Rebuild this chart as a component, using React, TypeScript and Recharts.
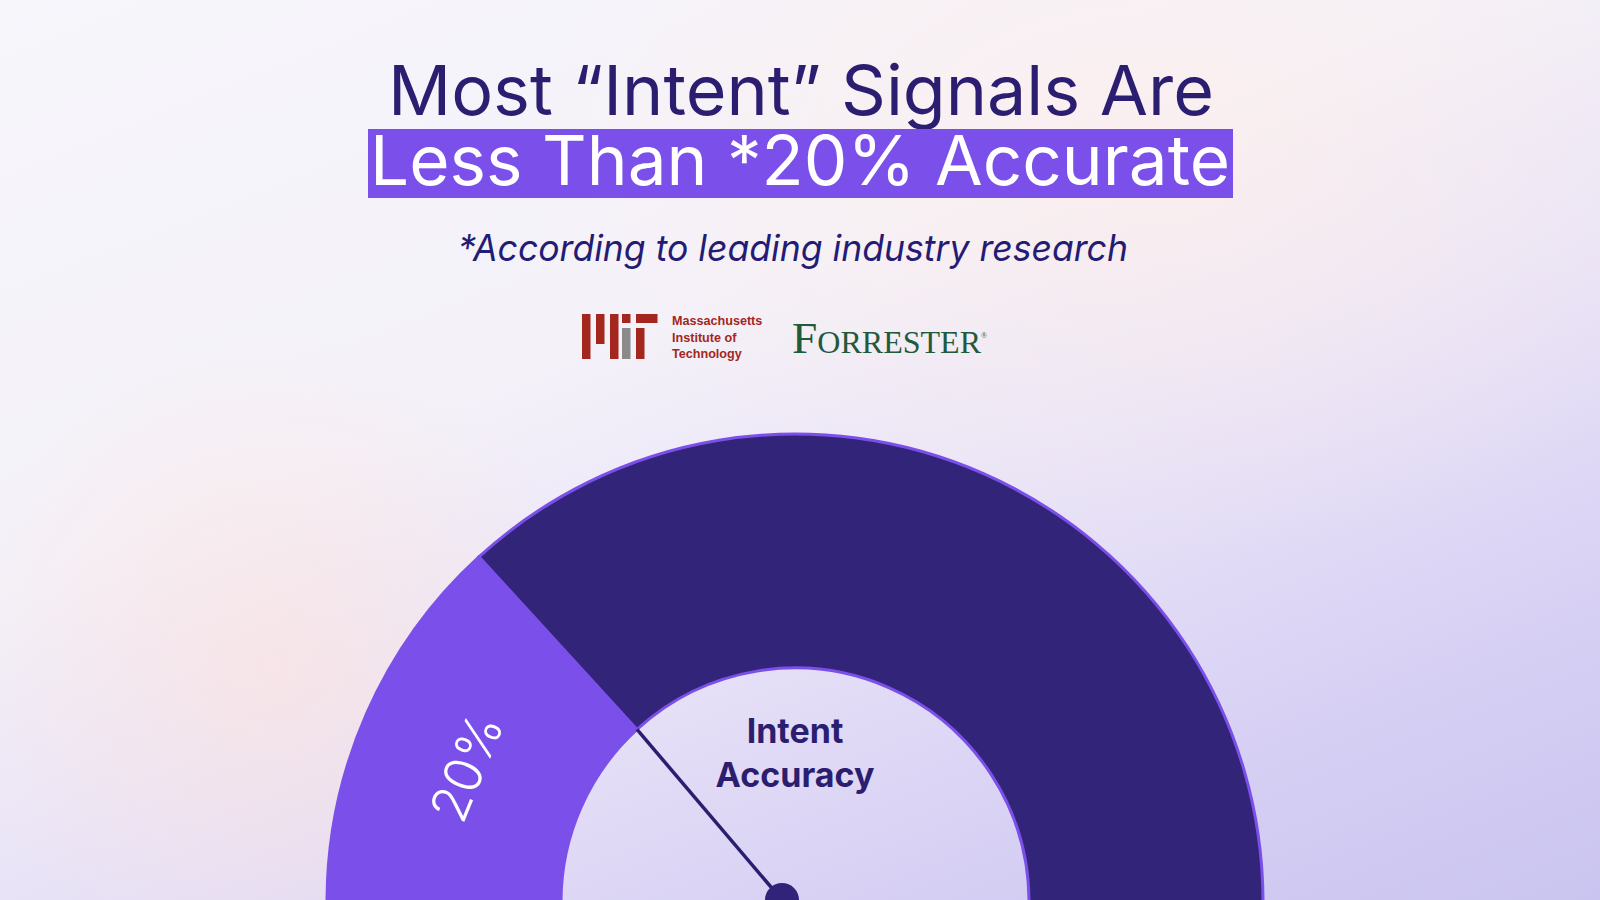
import * as React from "react";
import { PieChart, Pie, Cell } from "recharts";

// headline + copy
const titleLines = ["Most “Intent” Signals Are", "Less Than *20% Accurate"];
const subtitle = "*According to leading industry research";
const centerLabel = ["Intent", "Accuracy"];
const statLabel = "20%";

// gauge segments (share of the half ring, as drawn)
const segmentNames = ["Accurate", "Not accurate"];
const segmentValues = [26.4, 73.6];
const segmentColors = ["#7b4fea", "#322478"];

// logo copy
const mitLines = ["Massachusetts", "Institute of", "Technology"];
const forresterName = "Forrester";

const gaugeData = segmentNames.map((name, i) => ({ name, value: segmentValues[i] }));

const NAVY = "#2b1e70";
const RAD = Math.PI / 180;

const renderGaugeLabel = (props: any) => {
	const { cx, cy, midAngle, innerRadius, outerRadius, endAngle, index } = props;
	if (index !== 0) return null;
	const r = (innerRadius + outerRadius) / 2 + 4;
	const a = midAngle + 1.5;
	const lx = cx + r * Math.cos(a * RAD);
	const ly = cy - r * Math.sin(a * RAD);
	const tipX = cx + innerRadius * Math.cos(endAngle * RAD);
	const tipY = cy - innerRadius * Math.sin(endAngle * RAD);
	const baseX = cx - 13;
	const baseY = cy - 2;
	return (
		<g>
			<text
				x={lx}
				y={ly}
				transform={`rotate(${-(a - 90)} ${lx} ${ly})`}
				textAnchor="middle"
				dominantBaseline="central"
				fill="#ffffff"
				fontFamily="Inter, sans-serif"
				fontWeight={300}
				fontSize={52}
				textLength={110}
				lengthAdjust="spacingAndGlyphs"
			>
				{statLabel}
			</text>
			<line x1={baseX} y1={baseY} x2={tipX} y2={tipY} stroke={NAVY} strokeWidth={3.5} />
			<circle cx={baseX} cy={baseY} r={17} fill="#32237a" />
		</g>
	);
};

const App: React.FC = () => {
	return (
		<div
			style={{
				position: "fixed",
				left: 0,
				top: 0,
				width: 1600,
				height: 900,
				overflow: "hidden",
				background:
					"radial-gradient(circle at 17% 74%, rgba(255,226,218,0.55) 0%, rgba(255,226,218,0) 22%)," +
					"radial-gradient(ellipse at 72% 18%, rgba(255,238,232,0.6) 0%, rgba(255,238,232,0) 38%)," +
					"linear-gradient(158deg, #f7f6fb 0%, #f4f1f9 38%, #e6e0f7 62%, #d6cff4 82%, #cac5f0 100%)",
			}}
		>
			<div style={{ position: "absolute", left: 0, top: 0 }}>
				<PieChart width={1600} height={900} margin={{ top: 0, right: 0, bottom: 0, left: 0 }}>
					<Pie
						data={gaugeData}
						dataKey="value"
						nameKey="name"
						cx={795}
						cy={902}
						startAngle={180}
						endAngle={0}
						innerRadius={234}
						outerRadius={468}
						stroke="#7b4fea"
						strokeWidth={3}
						label={renderGaugeLabel}
						labelLine={false}
						isAnimationActive={false}
					>
						{gaugeData.map((d, i) => (
							<Cell key={d.name} fill={segmentColors[i]} />
						))}
					</Pie>
				</PieChart>
			</div>

			<svg
				width={1600}
				height={900}
				style={{ position: "absolute", left: 0, top: 0, pointerEvents: "none" }}
			>
				{/* title */}
				<text
					x={388}
					y={115}
					fill={NAVY}
					fontFamily="Inter, sans-serif"
					fontSize={69}
					textLength={826}
					lengthAdjust="spacingAndGlyphs"
				>
					{titleLines[0]}
				</text>
				<rect x={368} y={129} width={865} height={69} fill="#7b4fea" />
				<text
					x={370}
					y={185}
					fill="#ffffff"
					fontFamily="Inter, sans-serif"
					fontSize={69}
					textLength={860}
					lengthAdjust="spacingAndGlyphs"
				>
					{titleLines[1]}
				</text>
				<text
					x={458}
					y={261}
					fill="#241c74"
					fontFamily="Inter, sans-serif"
					fontStyle="italic"
					fontSize={37}
					textLength={670}
					lengthAdjust="spacingAndGlyphs"
				>
					{subtitle}
				</text>

				{/* MIT logo */}
				<g fill="#a3261f">
					<rect x={582} y={314} width={8.5} height={45} />
					<rect x={596} y={314} width={8.5} height={30} />
					<rect x={610} y={314} width={8.5} height={45} />
					<rect x={622} y={314} width={8.5} height={9} />
					<rect x={636} y={314} width={21.5} height={9} />
					<rect x={636} y={328} width={8.5} height={31} />
				</g>
				<rect x={622} y={328} width={8.5} height={31} fill="#8a8a8b" />
				{mitLines.map((t, i) => (
					<text
						key={t}
						x={672}
						y={325 + i * 16.5}
						fill="#a3261f"
						fontFamily="Liberation Sans, Arial, sans-serif"
						fontWeight={700}
						fontSize={12.6}
					>
						{t}
					</text>
				))}

				{/* Forrester wordmark */}
				<text
					x={792}
					y={353}
					fill="#1f5a3a"
					fontFamily="Liberation Serif, serif"
					fontSize={44}
					style={{ fontVariant: "small-caps" }}
					textLength={189}
					lengthAdjust="spacingAndGlyphs"
				>
					{forresterName}
				</text>
				<text x={981} y={338} fill="#1f5a3a" fontFamily="Liberation Serif, serif" fontSize={8}>
					®
				</text>

				{/* gauge centre label */}
				<text
					x={795}
					y={743}
					textAnchor="middle"
					fill={NAVY}
					fontFamily="Inter, sans-serif"
					fontWeight={700}
					fontSize={34}
				>
					{centerLabel[0]}
				</text>
				<text
					x={795}
					y={787}
					textAnchor="middle"
					fill={NAVY}
					fontFamily="Inter, sans-serif"
					fontWeight={700}
					fontSize={34}
				>
					{centerLabel[1]}
				</text>
			</svg>
		</div>
	);
};

export default App;
